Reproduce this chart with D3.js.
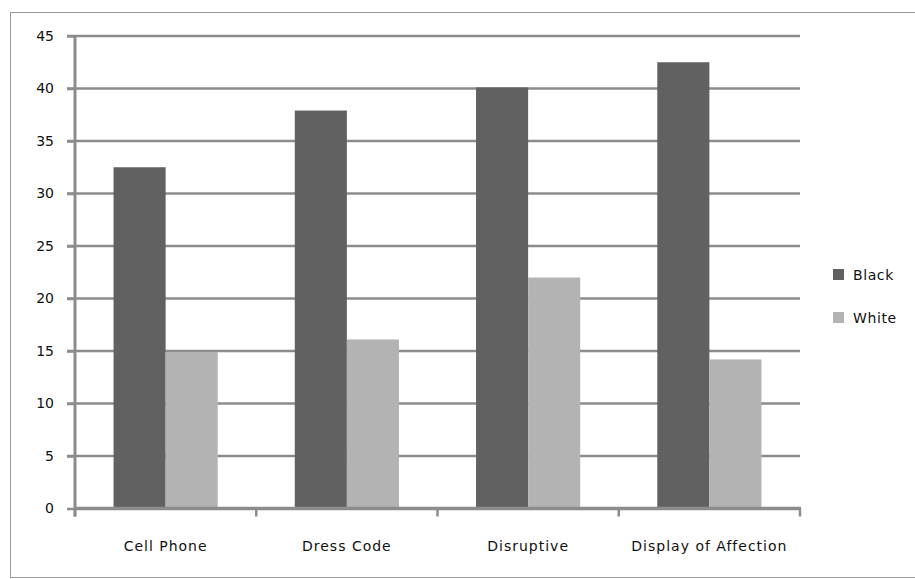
<!DOCTYPE html>
<html>
<head>
<meta charset="utf-8">
<script src="https://cdn.jsdelivr.net/npm/d3@7/dist/d3.min.js"></script>
<style>
  html, body { margin: 0; padding: 0; background: #fff; }
  svg { display: block; }
  text { font-family: "DejaVu Sans", sans-serif; fill: #111; }
</style>
</head>
<body>
<svg id="chart" width="915" height="579"></svg>
<script>
// Categories, series and values
const categories = ["Cell Phone", "Dress Code", "Disruptive", "Display of Affection"];
const seriesNames = ["Black", "White"];
const blackValues = [32.5, 37.9, 40.1, 42.5];
const whiteValues = [14.9, 16.1, 22.0, 14.2];
const yTicks = [0, 5, 10, 15, 20, 25, 30, 35, 40, 45];

const seriesValues = [blackValues, whiteValues];
const colors = ["#616161", "#b3b3b3"];

const svg = d3.select("#chart");

// outer frame
svg.append("rect")
  .attr("x", 10.5).attr("y", 12.5)
  .attr("width", 910).attr("height", 565)
  .attr("fill", "none").attr("stroke", "#9a9a9a").attr("stroke-width", 1);

const plotLeft = 75, plotRight = 800, plotTop = 36, plotBottom = 508.5;
const pw = plotRight - plotLeft, ph = plotBottom - plotTop;

const g = svg.append("g").attr("transform", `translate(${plotLeft},${plotTop})`);

const y = d3.scaleLinear().domain([0, 45]).range([ph, 0]);
const x0 = d3.scaleBand().domain(categories).range([0, pw]).paddingInner(0).paddingOuter(0);
const x1 = d3.scaleBand().domain(seriesNames).range([0, x0.bandwidth()]).paddingInner(0).paddingOuter(0.74);

// gridlines
g.append("g").selectAll("line")
  .data(yTicks.filter(d => d > 0))
  .join("line")
  .attr("x1", -8).attr("x2", pw)
  .attr("y1", d => y(d)).attr("y2", d => y(d))
  .attr("stroke", "#8c8c8c").attr("stroke-width", 2.5);

// bars
const groups = g.append("g").selectAll("g")
  .data(categories)
  .join("g")
  .attr("transform", d => `translate(${x0(d)},0)`);

groups.selectAll("rect")
  .data((c, i) => seriesNames.map((s, j) => ({ s, v: seriesValues[j][i], j })))
  .join("rect")
  .attr("x", d => x1(d.s))
  .attr("width", x1.bandwidth())
  .attr("y", d => y(d.v))
  .attr("height", d => y(0) - y(d.v))
  .attr("fill", d => colors[d.j]);

// y axis
const yAxis = g.append("g")
  .call(d3.axisLeft(y).tickValues(yTicks).tickSize(8).tickPadding(13).tickFormat(d3.format("d")));
yAxis.select(".domain").remove();
yAxis.selectAll(".tick line").attr("stroke", "#8c8c8c").attr("stroke-width", 2.5);
yAxis.selectAll("text").style("font-size", "14px").attr("fill", "#111");
g.append("line")
  .attr("x1", 0).attr("x2", 0).attr("y1", -1).attr("y2", ph + 8)
  .attr("stroke", "#8c8c8c").attr("stroke-width", 3);

// x axis
const xAxis = g.append("g").attr("transform", `translate(0,${ph})`);
xAxis.selectAll("line.sep")
  .data(d3.range(categories.length + 1))
  .join("line")
  .attr("class", "sep")
  .attr("x1", i => i * x0.step()).attr("x2", i => i * x0.step())
  .attr("y1", 0).attr("y2", 8)
  .attr("stroke", "#8c8c8c").attr("stroke-width", 2.5);
xAxis.append("line")
  .attr("x1", -1).attr("x2", pw + 1).attr("y1", 0).attr("y2", 0)
  .attr("stroke", "#8c8c8c").attr("stroke-width", 3.5);
xAxis.selectAll("text.cat")
  .data(categories)
  .join("text")
  .attr("class", "cat")
  .attr("x", d => x0(d) + x0.bandwidth() / 2)
  .attr("y", 42)
  .attr("text-anchor", "middle")
  .style("font-size", "14px")
  .style("letter-spacing", "1px")
  .text(d => d);

// legend
const legend = svg.append("g").attr("transform", "translate(833,269)");
const items = legend.selectAll("g")
  .data(seriesNames)
  .join("g")
  .attr("transform", (d, i) => `translate(0,${i * 43})`);
items.append("rect")
  .attr("width", 11).attr("height", 11)
  .attr("fill", (d, i) => colors[i]);
items.append("text")
  .attr("x", 20).attr("y", 10.5)
  .style("font-size", "14px")
  .style("letter-spacing", "0.6px")
  .text(d => d);
</script>
</body>
</html>
